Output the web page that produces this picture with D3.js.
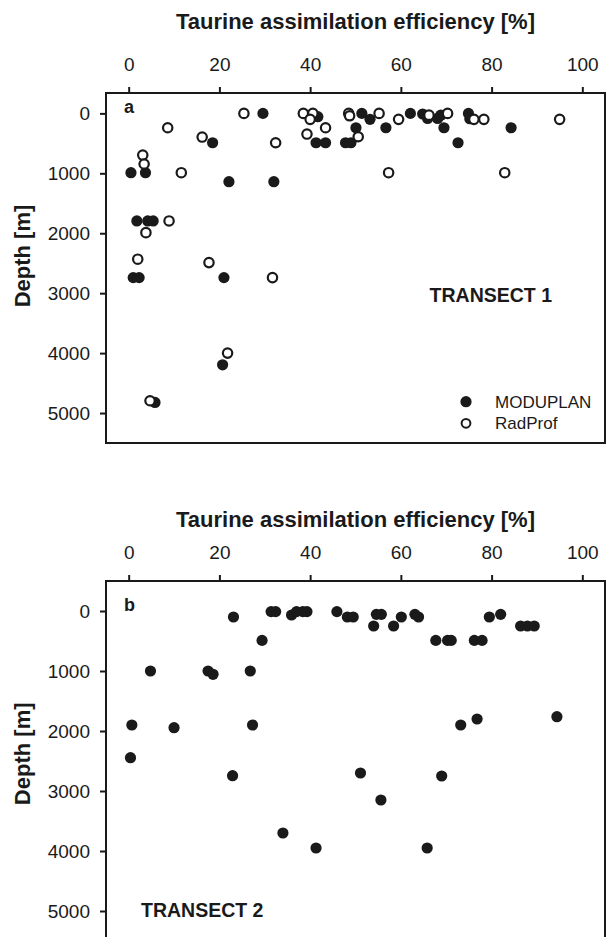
<!DOCTYPE html>
<html>
<head>
<meta charset="utf-8">
<script src="https://cdn.jsdelivr.net/npm/d3@7"></script>
<style>
  body { margin: 0; background: #fff; }
  svg text { font-family: "Liberation Sans", Arial, sans-serif; fill: #1a1a1a; }
</style>
</head>
<body>
<svg id="chart"></svg>
<script>
// x ticks shared by both panels
const xTicks = [0, 20, 40, 60, 80, 100];
const yTicks = [0, 1000, 2000, 3000, 4000, 5000];

// Transect 1, MODUPLAN (filled)
const t1ModEff = [29.6, 18.5, 0.5, 3.7, 22.1, 32.0, 1.8, 4.2, 5.4, 1.0, 2.3, 21.0, 20.7, 5.8,
  41.7, 41.3, 43.4, 50.1, 47.8, 49.0, 51.4, 53.2, 56.7, 62.1, 64.8, 65.9, 68.1, 68.8, 69.5, 72.6, 74.9, 75.2, 84.3];
const t1ModDepth = [0, 490, 990, 990, 1140, 1140, 1795, 1795, 1795, 2740, 2740, 2740, 4195, 4823,
  55, 490, 490, 240, 490, 490, 0, 100, 240, 0, 10, 85, 85, 30, 240, 490, 0, 90, 240];

// Transect 1, RadProf (open)
const t1RadEff = [25.4, 8.6, 16.2, 32.4, 3.1, 3.4, 11.6, 8.9, 3.8, 2.0, 17.7, 31.7, 21.8, 4.7,
  38.5, 40.6, 40.0, 43.4, 39.3, 48.5, 48.7, 50.6, 55.2, 59.5, 66.2, 70.3, 76.1, 78.3, 57.3, 82.9, 95.0];
const t1RadDepth = [0, 240, 395, 490, 695, 845, 990, 1795, 1990, 2433, 2490, 2740, 4000, 4795,
  0, 0, 100, 240, 345, 0, 40, 390, 0, 100, 30, 0, 100, 100, 990, 990, 100];

// Transect 2 (filled)
const t2Eff = [23.1, 31.4, 32.4, 35.9, 37.0, 38.4, 39.3, 45.9, 48.2, 49.5, 54.0, 54.6, 55.7, 58.4, 60.1,
  63.1, 63.9, 67.7, 70.3, 71.1, 76.2, 77.9, 79.5, 82.0, 86.4, 87.9, 89.4, 29.4,
  4.8, 17.5, 18.6, 26.8, 0.7, 10.0, 27.3, 0.4, 22.9, 51.1, 55.6, 69.0, 34.0, 41.3, 65.8, 73.2, 76.8, 94.4];
const t2Depth = [100, 10, 10, 67, 10, 10, 10, 10, 100, 100, 250, 56, 56, 250, 100,
  56, 100, 490, 490, 490, 490, 490, 100, 56, 250, 250, 250, 490,
  1000, 1000, 1055, 1000, 1900, 1945, 1900, 2445, 2745, 2700, 3150, 2750, 3700, 3950, 3950, 1900, 1800, 1762];

const legendNames = ["MODUPLAN", "RadProf"];

const W = 606, H = 937;
const svg = d3.select("#chart").attr("width", W).attr("height", H);

const x = d3.scaleLinear().domain([-5, 105]).range([106, 605]);
const ink = "#1a1a1a";
const r = 5.6;

const zip = (a, b) => a.map((v, i) => ({ eff: v, depth: b[i] }));

const panels = [
  { letter: "a", top: 93, bottom: 443, yDomain: [-340, 5500], titleY: 29,
    series: [
      { pts: zip(t1ModEff, t1ModDepth), filled: true },
      { pts: zip(t1RadEff, t1RadDepth), filled: false }
    ],
    transect: "TRANSECT 1", tx: 552, ty: 302, anchor: "end", legend: true },
  { letter: "b", top: 581, bottom: 941, yDomain: [-500, 5500], titleY: 527,
    series: [{ pts: zip(t2Eff, t2Depth), filled: true }],
    transect: "TRANSECT 2", tx: 141, ty: 917, anchor: "start", legend: false }
];

panels.forEach(p => {
  const y = d3.scaleLinear().domain(p.yDomain).range([p.top, p.bottom]);
  const g = svg.append("g");

  // top axis
  const xa = g.append("g")
    .attr("transform", `translate(0,${p.top})`)
    .call(d3.axisTop(x).tickValues(xTicks).tickFormat(d3.format("d")).tickSize(6).tickPadding(16));
  xa.select(".domain").remove();
  xa.selectAll("line").attr("stroke", ink).attr("stroke-width", 2);
  xa.selectAll("text").style("font-size", "19px").attr("fill", ink);

  // left axis
  const ya = g.append("g")
    .attr("transform", `translate(106,0)`)
    .call(d3.axisLeft(y).tickValues(yTicks).tickFormat(d3.format("d")).tickSize(6).tickPadding(10));
  ya.select(".domain").remove();
  ya.selectAll("line").attr("stroke", ink).attr("stroke-width", 2);
  ya.selectAll("text").style("font-size", "19px").attr("fill", ink);

  // frame
  g.append("rect")
    .attr("x", 106).attr("y", p.top)
    .attr("width", 605 - 106).attr("height", p.bottom - p.top)
    .attr("fill", "none").attr("stroke", ink).attr("stroke-width", 2);

  // titles
  g.append("text")
    .attr("x", (106 + 605) / 2).attr("y", p.titleY)
    .attr("text-anchor", "middle")
    .style("font-size", "22px").style("font-weight", "bold")
    .text("Taurine assimilation efficiency [%]");

  g.append("text")
    .attr("transform", `translate(30,${y(2380)}) rotate(-90)`)
    .attr("text-anchor", "middle")
    .style("font-size", "22px").style("font-weight", "bold")
    .text("Depth [m]");

  g.append("text")
    .attr("x", 124).attr("y", y(0) + 0)
    .style("font-size", "18px").style("font-weight", "bold")
    .text(p.letter);

  g.append("text")
    .attr("x", p.tx).attr("y", p.ty)
    .attr("text-anchor", p.anchor)
    .style("font-size", "19.5px").style("font-weight", "bold")
    .text(p.transect);

  // points
  p.series.forEach(s => {
    g.selectAll(null)
      .data(s.pts)
      .enter().append("circle")
      .attr("cx", d => x(d.eff))
      .attr("cy", d => y(d.depth))
      .attr("r", s.filled ? r : r - 0.9)
      .attr("fill", s.filled ? ink : "#fff")
      .attr("stroke", ink)
      .attr("stroke-width", s.filled ? 0 : 2.2);
  });

  if (p.legend) {
    legendNames.forEach((name, i) => {
      const ly = 401.7 + i * 21.6;
      g.append("circle")
        .attr("cx", 466).attr("cy", ly)
        .attr("r", i === 0 ? r : r - 1.2)
        .attr("fill", i === 0 ? ink : "#fff")
        .attr("stroke", ink).attr("stroke-width", i === 0 ? 0 : 2);
      g.append("text")
        .attr("x", 495).attr("y", ly).attr("dy", "0.35em")
        .style("font-size", "17px")
        .text(name);
    });
  }
});
</script>
</body>
</html>
